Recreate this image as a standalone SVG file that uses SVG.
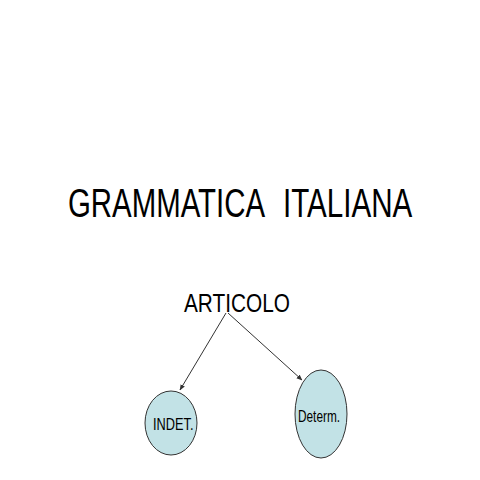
<svg xmlns="http://www.w3.org/2000/svg" width="480" height="480" viewBox="0 0 480 480">
<defs>
<style>
.t{font-family:"Liberation Sans",Arial,sans-serif;fill:#000}
.n{fill:#c2e2e6;stroke:#333;stroke-width:1}
.c{stroke:#333;stroke-width:1;fill:none;marker-end:url(#ah)}
</style>
<marker id="ah" viewBox="0 0 10 10" refX="9" refY="5" markerWidth="6" markerHeight="6" orient="auto" markerUnits="userSpaceOnUse">
<path d="M0,1 L10,5 L0,9 z" fill="#333"/>
</marker>
</defs>
<rect width="480" height="480" fill="#fff"/>
<g id="title">
<text class="t" transform="translate(68,217) scale(0.735,1)" font-size="40">GRAMMATICA</text>
<text class="t" transform="translate(283,217) scale(0.74,1)" font-size="40">ITALIANA</text>
</g>
<g id="articolo"><text class="t" transform="translate(184,312) scale(0.8,1)" font-size="26">ARTICOLO</text></g>
<g id="connectors">
<line class="c" x1="226" y1="313" x2="180" y2="390"/>
<line class="c" x1="228" y1="313" x2="302" y2="380"/>
</g>
<g id="indet"><ellipse class="n" cx="171" cy="423" rx="26" ry="32"/>
<text class="t" transform="translate(153,430) scale(0.8,1)" font-size="16">INDET.</text></g>
<g id="determ"><ellipse class="n" cx="321" cy="414" rx="26" ry="44"/>
<text class="t" transform="translate(298,422) scale(0.74,1)" font-size="16">Determ.</text></g>
</svg>
